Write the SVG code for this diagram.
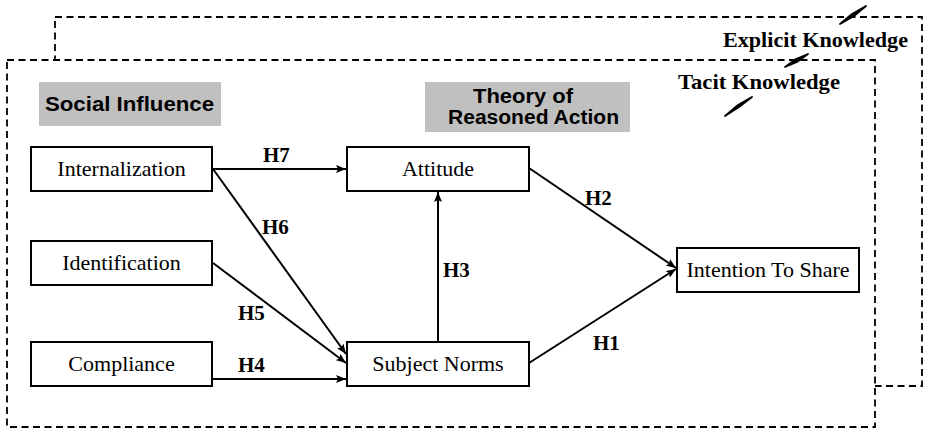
<svg xmlns="http://www.w3.org/2000/svg" width="925" height="430" viewBox="0 0 925 430">
  <style>
    .frame { fill: none; stroke: #000; stroke-width: 1.8; stroke-dasharray: 7 4.5; }
    .frame-front { fill: #fff; stroke: #000; stroke-width: 1.8; stroke-dasharray: 7 4.5; }
    .layer-label { font-family: "Liberation Serif", "Times New Roman", serif; font-weight: bold; font-size: 22px; fill: #000; }
    .group-box { fill: #c0c0c0; stroke: none; }
    .group-label { font-family: "Liberation Sans", Arial, sans-serif; font-weight: bold; font-size: 20px; fill: #000; }
    .node rect { fill: #fff; stroke: #000; stroke-width: 2; }
    .node text { font-family: "Liberation Serif", "Times New Roman", serif; font-size: 22px; fill: #000; text-anchor: middle; }
    .edge { fill: none; stroke: #000; stroke-width: 2; marker-end: url(#arrow); }
    .edge-label { font-family: "Liberation Serif", "Times New Roman", serif; font-weight: bold; font-size: 21px; fill: #000; }
    .break { fill: #000; stroke: #000; stroke-width: 1.8; stroke-linejoin: round; }
  </style>
  <defs>
    <marker id="arrow" viewBox="0 0 10 8" refX="10" refY="4" markerWidth="10" markerHeight="8" markerUnits="userSpaceOnUse" orient="auto">
      <path d="M0,0 L10,4 L0,8 L2,4 Z" fill="#000"/>
    </marker>
  </defs>

  <!-- knowledge layers -->
  <g id="explicit-layer">
    <rect class="frame" x="55" y="17" width="867" height="369"/>
    <text class="layer-label" x="723" y="47" textLength="185" lengthAdjust="spacingAndGlyphs">Explicit Knowledge</text>
  </g>
  <g id="tacit-layer">
    <rect class="frame-front" x="7" y="60" width="868" height="367"/>
    <text class="layer-label" x="678" y="89" textLength="162" lengthAdjust="spacingAndGlyphs">Tacit Knowledge</text>
  </g>

  <!-- broken diagonal between the layers -->
  <g id="layer-link">
    <path class="break" d="M840,24 L852,14 L866,6 L854,16 Z"/>
    <path class="break" d="M785,67 L796,59 L808,54 L797,62 Z"/>
    <path class="break" d="M725,116 L738,105 L752,97 L739,107 Z"/>
  </g>

  <!-- theory headings -->
  <g id="social-influence">
    <rect class="group-box" x="39" y="82" width="182" height="44"/>
    <text class="group-label" x="45" y="111" textLength="169" lengthAdjust="spacingAndGlyphs">Social Influence</text>
  </g>
  <g id="reasoned-action">
    <rect class="group-box" x="425" y="82" width="205" height="50"/>
    <text class="group-label" x="473" y="103" textLength="100" lengthAdjust="spacingAndGlyphs">Theory of</text>
    <text class="group-label" x="448" y="124" textLength="171" lengthAdjust="spacingAndGlyphs">Reasoned Action</text>
  </g>

  <!-- connectors -->
  <g id="connectors">
    <line class="edge" x1="212" y1="169" x2="346" y2="169"/>
    <line class="edge" x1="213" y1="169" x2="346" y2="354"/>
    <line class="edge" x1="213" y1="263" x2="346" y2="363"/>
    <line class="edge" x1="212" y1="379" x2="346" y2="379"/>
    <line class="edge" x1="438" y1="342" x2="438" y2="192"/>
    <line class="edge" x1="529" y1="168" x2="676" y2="268"/>
    <line class="edge" x1="529" y1="363" x2="676" y2="269"/>
    <text class="edge-label" x="263" y="162">H7</text>
    <text class="edge-label" x="262" y="234">H6</text>
    <text class="edge-label" x="238" y="320">H5</text>
    <text class="edge-label" x="238" y="372">H4</text>
    <text class="edge-label" x="443" y="277">H3</text>
    <text class="edge-label" x="585" y="205">H2</text>
    <text class="edge-label" x="593" y="350">H1</text>
  </g>

  <!-- constructs -->
  <g id="internalization" class="node">
    <rect x="31" y="147" width="181" height="44"/>
    <text x="121.5" y="176">Internalization</text>
  </g>
  <g id="identification" class="node">
    <rect x="31" y="241" width="181" height="44"/>
    <text x="121.5" y="270">Identification</text>
  </g>
  <g id="compliance" class="node">
    <rect x="31" y="342" width="181" height="44"/>
    <text x="121.5" y="371">Compliance</text>
  </g>
  <g id="attitude" class="node">
    <rect x="347" y="147" width="182" height="44"/>
    <text x="438" y="176">Attitude</text>
  </g>
  <g id="subject-norms" class="node">
    <rect x="347" y="342" width="182" height="44"/>
    <text x="438" y="371">Subject Norms</text>
  </g>
  <g id="intention-to-share" class="node">
    <rect x="677" y="248" width="182" height="44"/>
    <text x="768" y="277">Intention To Share</text>
  </g>
</svg>
